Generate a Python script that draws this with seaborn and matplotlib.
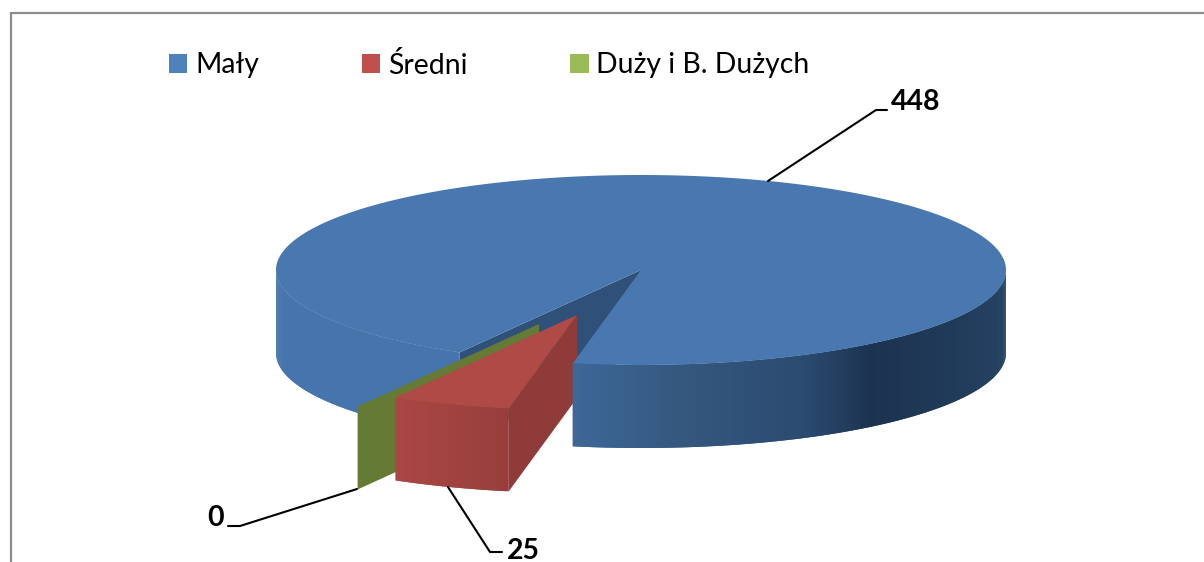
import numpy as np
import seaborn as sns
import matplotlib
matplotlib.use("Agg")
import matplotlib.pyplot as plt
from matplotlib.colors import to_rgb
from matplotlib.patches import Patch

sns.set_theme(style="white")
plt.rcParams['font.family'] = ['Lato', 'DejaVu Sans']

# data
categories = ["Mały", "Średni", "Duży i B. Dużych"]
values = [448, 25, 0]
value_labels = ["448", "25", "0"]

palette = sns.color_palette(["#4F81BD", "#C0504D", "#9BBB59"])

# pie geometry, in pixels of the picture
CX, CY = 641, 270
RX, RY = 365, 95
DEPTH = 83
FIRST_ANGLE = 209.8
OFFSETS = [(0, 0), (-64, 45), (-102, 54)]

TOP_COLORS = ["#4977B0", "#AF4A46", "#76923C"]
EDGE_COLORS = ["#2F5078", "#8F3B39", "#657A35"]
# wall shade along the pie, x from -1 (left) to 1 (right)
BLUE_SHADE_X = [-1, -0.5, -0.19, 0.1, 0.45, 0.63, 0.85, 1]
BLUE_SHADES = ["#4674AC", "#4674AC", "#3E6899", "#35587F", "#2B4A70", "#1C3350", "#203A59", "#264363"]
RED_SHADE_X = [-0.5, -0.19]
RED_SHADES = ["#AB4744", "#973E3C"]


def point(angle, radius=1.0):
    a = np.radians(angle)
    return radius * RX * np.sin(a), -radius * RY * np.cos(a)


def wall_color(i, x):
    if i == 0:
        stops = np.array([to_rgb(c) for c in BLUE_SHADES])
        xs = BLUE_SHADE_X
    else:
        stops = np.array([to_rgb(c) for c in RED_SHADES])
        xs = RED_SHADE_X
    return tuple(np.interp(x, xs, stops[:, k]) for k in range(3))


def front_wall(ax, i, a0, a1):
    # rim of the slice between two angles, thin strips that overlap the next one
    dx, dy = OFFSETS[i]
    a0, a1 = max(a0, 90), min(a1, 270)
    if a1 <= a0:
        return
    edges = np.arange(a0, a1, 0.5)
    for s in edges:
        e = min(s + 1.0, a1)
        angles = np.linspace(s, e, 4)
        x, y = point(angles)
        xs = np.r_[x, x[::-1]] + CX + dx
        ys = np.r_[y, y[::-1] + DEPTH] + CY + dy
        c = wall_color(i, np.sin(np.radians(s + 0.25)))
        ax.fill(xs, ys, color=c, lw=0)


def side_wall(ax, i, angle):
    # flat cut face from the tip to the rim
    dx, dy = OFFSETS[i]
    x, y = point(angle)
    xs = np.array([0, x, x, 0]) + CX + dx
    ys = np.array([0, y, y + DEPTH, DEPTH]) + CY + dy
    ax.fill(xs, ys, color=EDGE_COLORS[i], lw=0)


def top_face(ax, i, a0, a1):
    dx, dy = OFFSETS[i]
    angles = np.arange(a0, a1, 0.25)
    angles = np.append(angles, a1)
    x, y = point(angles)
    ax.fill(np.r_[0, x] + CX + dx, np.r_[0, y] + CY + dy, color=TOP_COLORS[i], lw=0)


sweeps = np.array(values) / sum(values) * 360
blue_a0 = FIRST_ANGLE
blue_a1 = blue_a0 + sweeps[0]
red_a0 = blue_a1 - 360
red_a1 = red_a0 + sweeps[1]

fig = plt.figure(figsize=(12.04, 5.62), dpi=100)
ax = fig.add_axes([0, 0, 1, 1])
ax.set_xlim(0, 1204)
ax.set_ylim(562, 0)
ax.axis("off")

# frame of the chart area
ax.plot([10.5, 10.5, 1204], [562, 12.5, 12.5], color="#8C8C8C", lw=1.6, solid_joinstyle="miter")

# back to front
front_wall(ax, 0, blue_a0, 270)
side_wall(ax, 0, blue_a0)
side_wall(ax, 2, red_a1)
front_wall(ax, 1, red_a0, red_a1)
side_wall(ax, 1, red_a0)
top_face(ax, 1, red_a0, red_a1)
front_wall(ax, 0, 90, blue_a1 - 360)
top_face(ax, 0, blue_a0, blue_a1)

# leader lines and value labels
leaders = [
    ([768, 876, 887], [181, 110, 110]),
    ([448, 490, 502], [487, 552, 552]),
    ([357, 240, 228], [489, 526, 526]),
]
label_pos = [(891, 110), (507, 559), (207, 525.5)]
for (lx, ly), txt, (tx, ty) in zip(leaders, value_labels, label_pos):
    ax.plot(lx, ly, color="black", lw=1.5)
    ax.text(tx, ty, txt, fontsize=20.5, fontweight="bold", color="black", ha="left", va="baseline")

handles = [Patch(facecolor=c, edgecolor="none", label=n) for c, n in zip(palette, categories)]
ax.legend(handles=handles, ncol=3, frameon=False, fontsize=20.4,
          loc="center left", bbox_to_anchor=(169 / 1204, 1 - 65 / 562),
          borderaxespad=0, borderpad=0, handlelength=0.65, handleheight=0.65,
          handletextpad=0.27, columnspacing=3.63, labelcolor="black")

fig.savefig("out.png", dpi=100)
